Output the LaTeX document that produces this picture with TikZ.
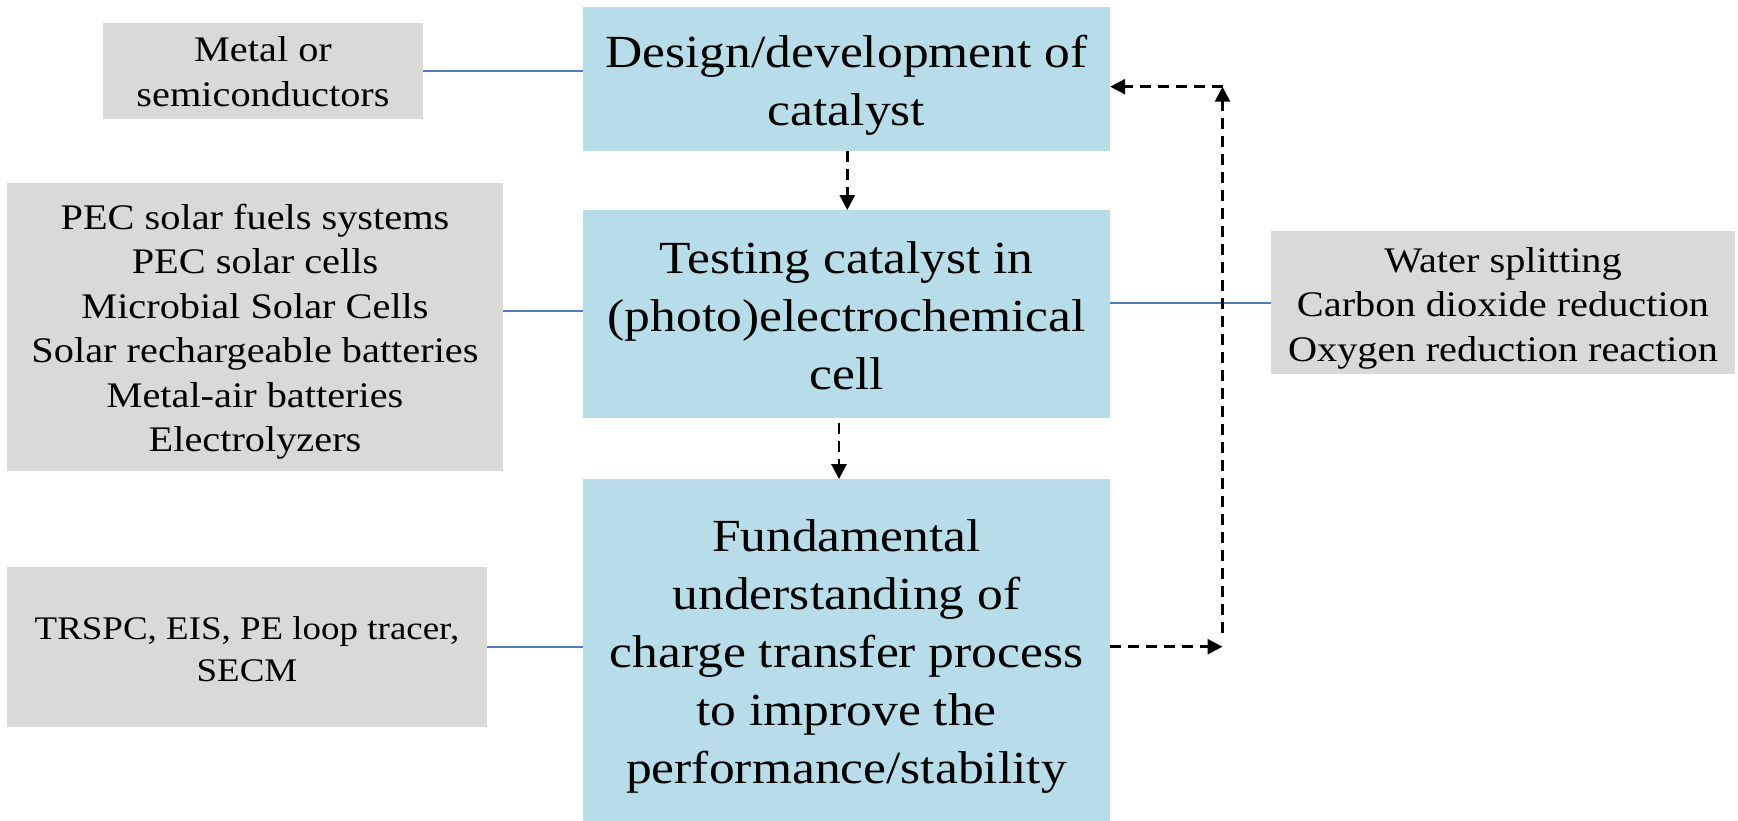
\documentclass[tikz,border=0pt]{standalone}
\usepackage{fontspec}
\setmainfont{Liberation Serif}[FakeStretch=1.12]
\usetikzlibrary{arrows.meta,calc}
\definecolor{boxblue}{HTML}{B7DEE8}
\definecolor{boxgray}{HTML}{D9D9D9}
\definecolor{linkblue}{HTML}{4A7EBB}
\newcommand{\boxlines}[2]{\raisebox{-#1}[\height][\depth]{\begin{tabular}{@{}c@{}}#2\end{tabular}}}
\begin{document}
\begin{tikzpicture}[x=1pt,y=-1pt,
  mainbox/.style={fill=boxblue, inner sep=0pt, font=\fontsize{46}{58}\selectfont},
  sidebox/.style={fill=boxgray, inner sep=0pt, font=\fontsize{36}{44.5}\selectfont},
  link/.style={draw=linkblue, line width=2pt},
  flow/.style={draw=black, line width=2.7pt, dash pattern=on 11pt off 7pt, -{Triangle[length=15pt,width=15pt]}},
]
\useasboundingbox (0,0) rectangle (1738,821);
% main boxes
\node[mainbox, minimum width=527pt, minimum height=144pt] (design) at (846.5,79) {\boxlines{6pt}{Design/development of\\catalyst}};
\node[mainbox, minimum width=527pt, minimum height=207.5pt] (testing) at (846.5,314) {\boxlines{6pt}{Testing catalyst in\\(photo)electrochemical\\cell}};
\node[mainbox, minimum width=527pt, minimum height=341.7pt] (fund) at (846.5,650.15) {\boxlines{6pt}{Fundamental\\understanding of\\charge transfer process\\to improve the\\performance/stability}};
% side boxes
\node[sidebox, minimum width=320pt, minimum height=95.7pt] (metal) at (263,70.8) {\boxlines{4.5pt}{Metal or\\semiconductors}};
\node[sidebox, minimum width=496pt, minimum height=288pt] (pec) at (255,327) {\boxlines{4.6pt}{PEC solar fuels systems\\PEC solar cells\\Microbial Solar Cells\\Solar rechargeable batteries\\Metal-air batteries\\Electrolyzers}};
\node[sidebox, minimum width=464pt, minimum height=143pt] (water) at (1503,302.5) {\boxlines{5.3pt}{Water splitting\\Carbon dioxide reduction\\Oxygen reduction reaction}};
\node[sidebox, minimum width=480pt, minimum height=160pt, font=\fontsize{33}{42.5}\selectfont] (trspc) at (247,646.7) {\boxlines{5.3pt}{TRSPC, EIS, PE loop tracer,\\SECM}};
% links
\draw[link] (metal.east) -- (metal.east -| design.west);
\draw[link] ([yshift=2.8pt]testing.west -| pec.east) -- ([yshift=2.8pt]testing.west);
\draw[link] (water.west) -- (water.west -| testing.east);
\draw[link] (trspc.east) -- (trspc.east -| fund.west);
% flow arrows
\draw[flow] ([xshift=0.8pt]design.south) -- ([xshift=0.8pt]testing.north);
\draw[flow] ([xshift=-7.5pt,yshift=-5pt]testing.south) -- ([xshift=-7.5pt]fund.north);
\coordinate (corner) at (1222.5,86.7);
\coordinate (fbot) at (1222.5,646.7);
\draw[flow] (fbot -| fund.east) -- (fbot);
\draw[flow] ([yshift=14pt]fbot) -- (corner);
\draw[flow] (corner) -- (corner -| design.east);
\end{tikzpicture}
\end{document}
